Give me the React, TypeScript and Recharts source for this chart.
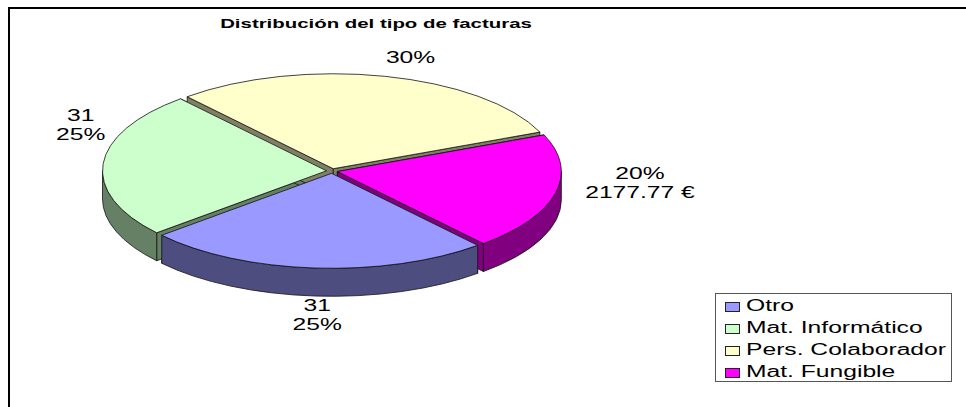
import React from 'react';
import { PieChart, Pie, Legend } from 'recharts';

const categories = ['Otro', 'Mat. Informático', 'Pers. Colaborador', 'Mat. Fungible'];
const shares = [25, 25, 30, 20];
const sliceLabels = [['31', '25%'], ['31', '25%'], ['30%'], ['20%', '2177.77 €']];
const fills = ['#9999FF', '#CCFFCC', '#FFFFCC', '#FF00FF'];
const walls = ['#4D4D80', '#668066', '#808066', '#800080'];

const tableData = categories.map((name, i) => ({ name, value: shares[i], fill: fills[i], wall: walls[i] }));

const RX = 224;
const SQUASH = 0.424; // ellipse tilt
const DEPTH = 28;
const EXPLODE = 5.5;
const LINE = '#111';
const TEXT_STRETCH = 1.54; // the source picture is stretched sideways

// nudges from the rim point of each slice to its text block centre
const labelNudge = [
  { x: 2, y: 49.5 },
  { x: -28, y: -38 },
  { x: 27, y: -21 },
  { x: 90, y: -9.5 },
];

const rad = (a: number) => (a * Math.PI) / 180;

const geometry = (props: any) => {
  const { cx, cy, outerRadius, startAngle, endAngle, midAngle } = props;
  const mid = midAngle ?? (startAngle + endAngle) / 2;
  const ox = cx + EXPLODE * Math.cos(rad(mid));
  const oy = cy - EXPLODE * SQUASH * Math.sin(rad(mid));
  const pt = (a: number, dy = 0) => ({
    x: ox + outerRadius * Math.cos(rad(a)),
    y: oy - outerRadius * SQUASH * Math.sin(rad(a)) + dy,
  });
  return { ox, oy, pt, r: outerRadius, ry: outerRadius * SQUASH, startAngle, endAngle };
};

const RadialFaces = (props: any) => {
  const { ox, oy, pt, startAngle, endAngle } = geometry(props);
  const face = (a: number) => {
    const p = pt(a);
    return `M${ox},${oy} L${p.x},${p.y} L${p.x},${p.y + DEPTH} L${ox},${oy + DEPTH} Z`;
  };
  return (
    <g>
      <path d={face(startAngle)} fill={props.wall} stroke={LINE} strokeWidth={0.8} />
      <path d={face(endAngle)} fill={props.wall} stroke={LINE} strokeWidth={0.8} />
    </g>
  );
};

const RimWall = (props: any) => {
  const { pt, r, ry, startAngle, endAngle } = geometry(props);
  const parts: string[] = [];
  // only the front half of the rim shows
  for (const k of [0, 1]) {
    const hi = Math.min(startAngle, -360 * k);
    const lo = Math.max(endAngle, -180 - 360 * k);
    if (hi <= lo) continue;
    const a = pt(hi);
    const b = pt(lo);
    parts.push(
      `M${a.x},${a.y} A${r},${ry} 0 0 1 ${b.x},${b.y} L${b.x},${b.y + DEPTH} A${r},${ry} 0 0 0 ${a.x},${a.y + DEPTH} Z`
    );
  }
  if (!parts.length) return <g />;
  return <path d={parts.join(' ')} fill={props.wall} stroke={LINE} strokeWidth={0.8} />;
};

const TopFace = (props: any) => {
  const { ox, oy, pt, r, ry, startAngle, endAngle } = geometry(props);
  const a = pt(startAngle);
  const b = pt(endAngle);
  const large = Math.abs(startAngle - endAngle) > 180 ? 1 : 0;
  return (
    <path
      d={`M${ox},${oy} L${a.x},${a.y} A${r},${ry} 0 ${large} 1 ${b.x},${b.y} Z`}
      fill={props.fill}
      stroke={LINE}
      strokeWidth={0.8}
    />
  );
};

const renderLabel = (props: any) => {
  const { cx, cy, outerRadius, midAngle, index } = props;
  const x = cx + outerRadius * Math.cos(rad(midAngle)) + labelNudge[index].x;
  const y = cy - outerRadius * SQUASH * Math.sin(rad(midAngle)) + labelNudge[index].y;
  const lines = sliceLabels[index];
  const lineH = 19;
  return (
    <g transform={`translate(${x},${y}) scale(${TEXT_STRETCH},1)`}>
      <text x={0} y={0} textAnchor="middle" fontFamily="Liberation Sans" fontSize={16} fill="#000">
        {lines.map((t, i) => (
          <tspan key={i} x={0} y={(i - (lines.length - 1) / 2) * lineH + 5}>
            {t}
          </tspan>
        ))}
      </text>
    </g>
  );
};

const renderLegend = ({ payload }: any) => {
  // three stacked Pie layers each report the same entries
  const entries = categories.map((c) => (payload || []).find((p: any) => p.value === c)).filter(Boolean);
  return (
    <div style={{ width: 235, height: 87, border: '1px solid #555', boxSizing: 'content-box', background: '#fff' }}>
      {entries.map((entry: any, i: number) => (
        <div key={i} style={{ height: 22, paddingTop: i === 0 ? 1 : 0, display: 'flex', alignItems: 'center', marginLeft: 9 }}>
          <span style={{ width: 13, height: 8, background: entry.color, border: '1px solid #222', marginRight: 6, boxSizing: 'content-box', flex: 'none', marginTop: 1 }} />
          <span style={{ fontFamily: 'Liberation Sans', fontSize: 16, color: '#000', whiteSpace: 'nowrap', transform: `scaleX(${TEXT_STRETCH})`, transformOrigin: 'left center' }}>
            {entry.value}
          </span>
        </div>
      ))}
    </div>
  );
};

const pieProps = {
  data: tableData,
  dataKey: 'value',
  nameKey: 'name',
  cx: 332,
  cy: 171,
  outerRadius: RX,
  startAngle: -49.3,
  endAngle: -409.3,
  stroke: 'none',
  isAnimationActive: false,
};

export default function App() {
  return (
    <div style={{ position: 'absolute', left: 0, top: 0, width: 966, height: 407, overflow: 'hidden', background: '#fff' }}>
      <div style={{ position: 'absolute', left: 8, top: 7, width: 958, height: 400, borderLeft: '2px solid #000', borderTop: '2px solid #000' }} />
      <div
        style={{
          position: 'absolute',
          left: 176,
          width: 400,
          top: 17,
          textAlign: 'center',
          fontFamily: 'Liberation Sans',
          fontWeight: 700,
          fontSize: 12,
          transform: 'scaleX(1.7)',
          whiteSpace: 'nowrap',
        }}
      >
        Distribución del tipo de facturas
      </div>
      <div style={{ position: 'absolute', left: 0, top: 0 }}>
        <PieChart width={966} height={407} margin={{ top: 0, right: 0, bottom: 0, left: 0 }}>
          <Pie {...pieProps} shape={RadialFaces} legendType="none" label={false} />
          <Pie {...pieProps} shape={RimWall} legendType="none" label={false} />
          <Pie {...pieProps} shape={TopFace} label={renderLabel} labelLine={false} />
          <Legend content={renderLegend} wrapperStyle={{ position: 'absolute', left: 715, top: 293, width: 237, bottom: 'auto' }} />
        </PieChart>
      </div>
    </div>
  );
}
